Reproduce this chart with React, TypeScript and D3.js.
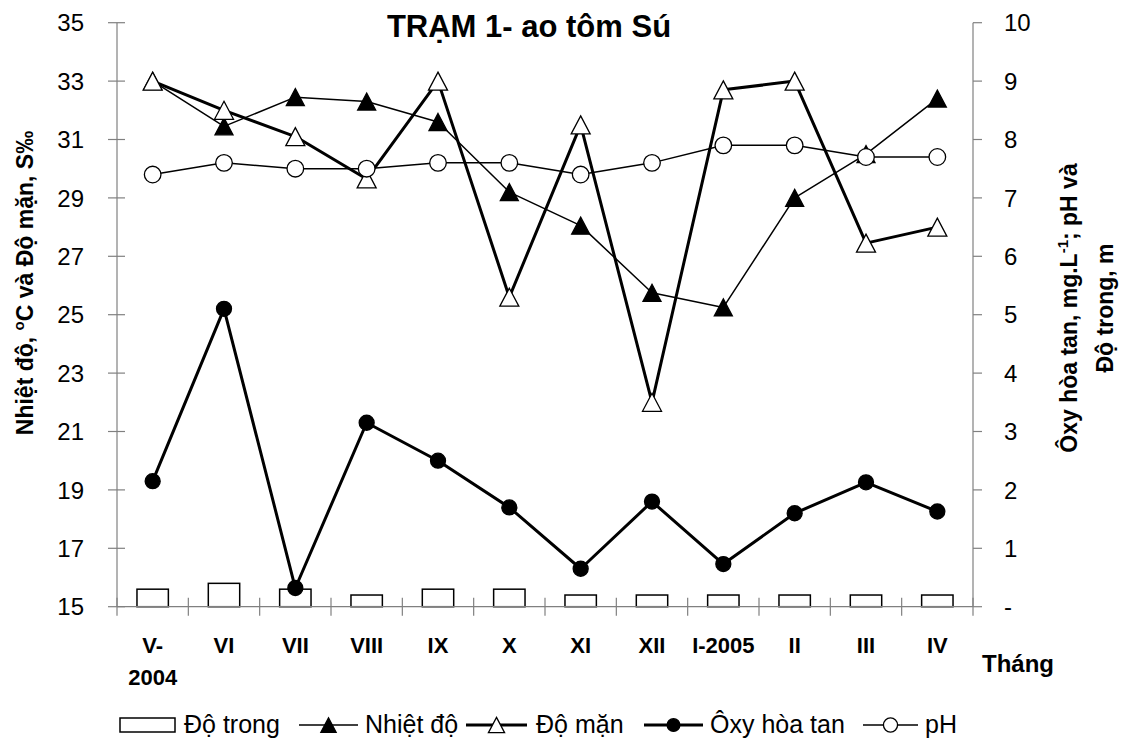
import * as d3 from 'd3';
import { useEffect, useRef } from 'react';

const months = ['V- 2004', 'VI', 'VII', 'VIII', 'IX', 'X', 'XI', 'XII', 'I-2005', 'II', 'III', 'IV'];
const doTrong = [0.3, 0.4, 0.3, 0.2, 0.3, 0.3, 0.2, 0.2, 0.2, 0.2, 0.2, 0.2];
const nhietDo = [33, 31.45, 32.45, 32.3, 31.6, 29.2, 28.05, 25.75, 25.25, 29, 30.5, 32.4];
const doMan = [33, 32, 31.1, 29.65, 33, 25.6, 31.5, 22, 32.7, 33, 27.45, 28];
const oxyHoaTan = [2.15, 5.1, 0.32, 3.15, 2.5, 1.7, 0.65, 1.8, 0.73, 1.6, 2.13, 1.63];
const pH = [7.4, 7.6, 7.5, 7.5, 7.6, 7.6, 7.4, 7.6, 7.9, 7.9, 7.7, 7.7];
const leftTicks = [15, 17, 19, 21, 23, 25, 27, 29, 31, 33, 35];
const rightTicks = [0, 1, 2, 3, 4, 5, 6, 7, 8, 9, 10];

const font = '"Liberation Sans", Arial, sans-serif';
const width = 1122;
const height = 742;

type Marker = 'triUp' | 'triOpen' | 'dot' | 'circle';

const triPath = (w: number, h: number) =>
  `M0,${-h / 2}L${w / 2},${h / 2}L${-w / 2},${h / 2}Z`;

const App = () => {
  const ref = useRef<SVGSVGElement | null>(null);
  const margin = { left: 117, right: 149, top: 22.7, bottom: 135.3 };

  useEffect(() => {
    if (!ref.current) return;
    const svg = d3.select(ref.current);
    svg.selectAll('*').remove();

    const x0 = margin.left;
    const x1 = width - margin.right;
    const yTop = margin.top;
    const yBot = height - margin.bottom;

    const x = d3
      .scaleBand<string>()
      .domain(months)
      .range([x0, x1])
      .paddingInner(0.56)
      .paddingOuter(0.28);
    const cx = (m: string) => x(m)! + x.bandwidth() / 2;
    const step = x.step();

    const yLeft = d3.scaleLinear().domain([15, 35]).range([yBot, yTop]);
    const yRight = d3.scaleLinear().domain([0, 10]).range([yBot, yTop]);

    const drawMarker = (
      g: d3.Selection<SVGGElement, unknown, null, undefined>,
      kind: Marker,
      px: number,
      py: number,
      s = 1
    ) => {
      if (kind === 'triUp' || kind === 'triOpen') {
        g.append('path')
          .attr('d', kind === 'triUp' ? triPath(18 * s, 17 * s) : triPath(19 * s, 18 * s))
          .attr('transform', `translate(${px},${py})`)
          .attr('fill', kind === 'triUp' ? 'black' : 'white')
          .attr('stroke', 'black')
          .attr('stroke-width', 1.3);
      } else {
        g.append('circle')
          .attr('cx', px)
          .attr('cy', py)
          .attr('r', (kind === 'dot' ? 7.5 : 8.3) * s)
          .attr('fill', kind === 'dot' ? 'black' : 'white')
          .attr('stroke', 'black')
          .attr('stroke-width', 1.3);
      }
    };

    // bars (Độ trong)
    svg
      .append('g')
      .selectAll('rect')
      .data(doTrong)
      .join('rect')
      .attr('x', (_, i) => x(months[i])!)
      .attr('y', (d) => yRight(d))
      .attr('width', x.bandwidth())
      .attr('height', (d) => yBot - yRight(d))
      .attr('fill', 'white')
      .attr('stroke', 'black')
      .attr('stroke-width', 1.5);

    // axes
    const axes = svg.append('g').attr('stroke', '#808080').attr('stroke-width', 1.2);
    axes.append('line').attr('x1', x0).attr('x2', x0).attr('y1', yTop).attr('y2', yBot);
    axes.append('line').attr('x1', x1).attr('x2', x1).attr('y1', yTop).attr('y2', yBot);
    axes.append('line').attr('x1', x0).attr('x2', x1).attr('y1', yBot).attr('y2', yBot);
    leftTicks.forEach((t) => {
      axes.append('line').attr('x1', x0 - 9).attr('x2', x0 + 8).attr('y1', yLeft(t)).attr('y2', yLeft(t));
    });
    rightTicks.forEach((t) => {
      axes.append('line').attr('x1', x1).attr('x2', x1 + 9).attr('y1', yRight(t)).attr('y2', yRight(t));
    });
    d3.range(months.length + 1).forEach((k) => {
      const tx = x0 + k * step;
      axes.append('line').attr('x1', tx).attr('x2', tx).attr('y1', yBot - 9).attr('y2', yBot + 9);
    });

    const txt = svg.append('g').attr('font-family', font).attr('fill', 'black');

    leftTicks.forEach((t) => {
      txt.append('text')
        .attr('x', x0 - 33)
        .attr('y', yLeft(t) + 8.6)
        .attr('text-anchor', 'end')
        .attr('font-size', 24)
        .text(t);
    });
    rightTicks.forEach((t) => {
      txt.append('text')
        .attr('x', x1 + 31)
        .attr('y', yRight(t) + 8.6)
        .attr('font-size', 24)
        .text(t === 0 ? '-' : t);
    });

    months.forEach((m) => {
      m.split(' ').forEach((part, j) => {
        txt.append('text')
          .attr('x', cx(m))
          .attr('y', 653 + j * 32)
          .attr('text-anchor', 'middle')
          .attr('font-size', 22)
          .attr('font-weight', 'bold')
          .text(part);
      });
    });

    txt.append('text')
      .attr('x', 982)
      .attr('y', 672)
      .attr('font-size', 24)
      .attr('font-weight', 'bold')
      .text('Tháng');

    txt.append('text')
      .attr('x', 529)
      .attr('y', 37)
      .attr('text-anchor', 'middle')
      .attr('font-size', 31)
      .attr('font-weight', 'bold')
      .text('TRẠM 1- ao tôm Sú');

    // left axis title
    const lt = txt.append('text')
      .attr('transform', 'translate(33,283) rotate(-90)')
      .attr('text-anchor', 'middle')
      .attr('font-size', 23)
      .attr('font-weight', 'bold');
    lt.append('tspan').text('Nhiệt độ, ');
    lt.append('tspan').attr('dy', -9).attr('font-size', 15).text('o');
    lt.append('tspan').attr('dy', 9).text('C và Độ mặn, S‰');

    // right axis title, two lines
    const rt = txt.append('text')
      .attr('transform', 'translate(1077,308) rotate(-90)')
      .attr('text-anchor', 'middle')
      .attr('font-size', 23)
      .attr('font-weight', 'bold');
    rt.append('tspan').text('Ôxy hòa tan, mg.L');
    rt.append('tspan').attr('dy', -9).attr('font-size', 15).text('-1');
    rt.append('tspan').attr('dy', 9).text('; pH và');
    txt.append('text')
      .attr('transform', 'translate(1113,308) rotate(-90)')
      .attr('text-anchor', 'middle')
      .attr('font-size', 23)
      .attr('font-weight', 'bold')
      .text('Độ trong, m');

    // series
    const series: { values: number[]; scale: d3.ScaleLinear<number, number>; lw: number; marker: Marker }[] = [
      { values: nhietDo, scale: yLeft, lw: 1.5, marker: 'triUp' },
      { values: doMan, scale: yLeft, lw: 3, marker: 'triOpen' },
      { values: oxyHoaTan, scale: yRight, lw: 3, marker: 'dot' },
      { values: pH, scale: yRight, lw: 1.5, marker: 'circle' },
    ];

    series.forEach((s) => {
      const g = svg.append('g');
      const line = d3
        .line<number>()
        .x((_, i) => cx(months[i]))
        .y((d) => s.scale(d));
      g.append('path')
        .attr('d', line(s.values))
        .attr('fill', 'none')
        .attr('stroke', 'black')
        .attr('stroke-width', s.lw)
        .attr('stroke-linejoin', 'round');
      s.values.forEach((v, i) => drawMarker(g, s.marker, cx(months[i]), s.scale(v)));
    });

    // legend
    const ly = 725;
    const lg = svg.append('g');
    lg.append('rect')
      .attr('x', 120)
      .attr('y', ly - 7)
      .attr('width', 55)
      .attr('height', 14)
      .attr('fill', 'white')
      .attr('stroke', 'black')
      .attr('stroke-width', 1.5);
    const legendText = (lx: number, t: string) =>
      lg.append('text')
        .attr('x', lx)
        .attr('y', ly + 8)
        .attr('font-family', font)
        .attr('font-size', 25)
        .text(t);
    legendText(184, 'Độ trong');
    const legendLine = (a: number, b: number, lw: number, kind: Marker) => {
      lg.append('line')
        .attr('x1', a)
        .attr('x2', b)
        .attr('y1', ly)
        .attr('y2', ly)
        .attr('stroke', 'black')
        .attr('stroke-width', lw);
      drawMarker(lg, kind, (a + b) / 2, ly, 0.85);
    };
    legendLine(299, 358, 1.5, 'triUp');
    legendText(365, 'Nhiệt độ');
    legendLine(466, 527, 3, 'triOpen');
    legendText(536, 'Độ mặn');
    legendLine(644, 703, 3, 'dot');
    legendText(710, 'Ôxy hòa tan');
    legendLine(863, 918, 1.5, 'circle');
    legendText(925, 'pH');
  }, []);

  return (
    <svg
      ref={ref}
      width={width}
      height={height}
      style={{ position: 'absolute', left: 0, top: 0, background: 'white' }}
    />
  );
};

export default App;
